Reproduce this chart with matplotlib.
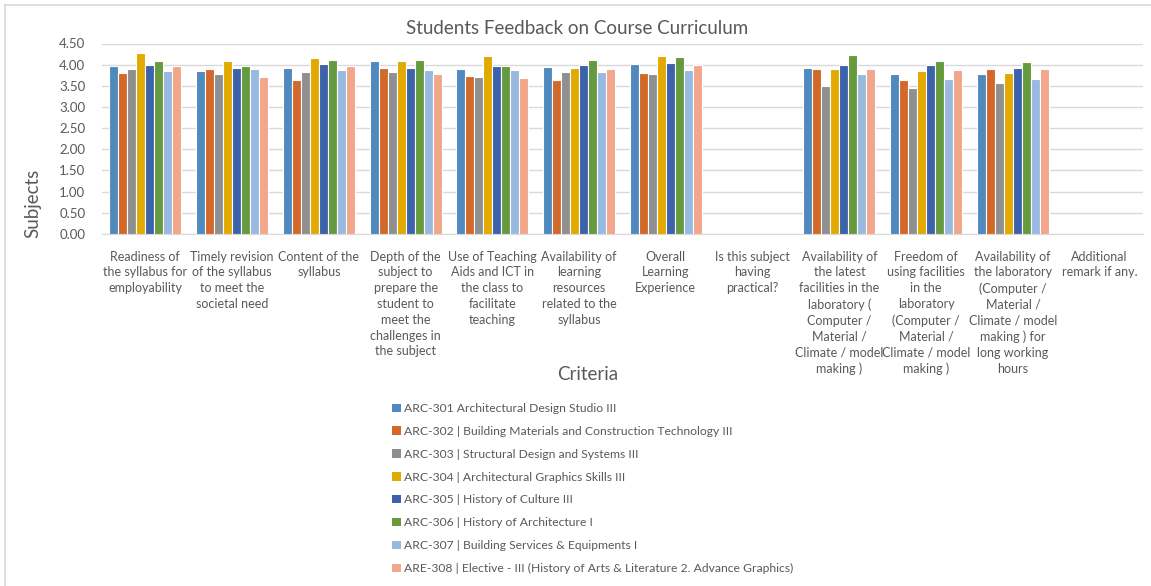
import numpy as np
import matplotlib.pyplot as plt
from matplotlib.patches import Patch
from matplotlib.lines import Line2D

plt.rcParams['font.family'] = ['Lato', 'DejaVu Sans']

criteria = [
    "Readiness of\nthe syllabus for\nemployability",
    "Timely revision\nof the syllabus\nto meet the\nsocietal need",
    "Content of the\nsyllabus",
    "Depth of the\nsubject to\nprepare the\nstudent to\nmeet the\nchallenges in\nthe subject",
    "Use of Teaching\nAids and ICT in\nthe class to\nfacilitate\nteaching",
    "Availability of\nlearning\nresources\nrelated to the\nsyllabus",
    "Overall\nLearning\nExperience",
    "Is this subject\nhaving\npractical?",
    "Availability of\nthe latest\nfacilities in the\nlaboratory (\nComputer /\nMaterial /\nClimate / model\nmaking )",
    "Freedom of\nusing facilities\nin the\nlaboratory\n(Computer /\nMaterial /\nClimate / model\nmaking )",
    "Availability of\nthe laboratory\n(Computer /\nMaterial /\nClimate / model\nmaking ) for\nlong working\nhours",
    "Additional\nremark if any.",
]

subjects = [
    "ARC-301 Architectural Design Studio III",
    "ARC-302 | Building Materials and Construction Technology III",
    "ARC-303 | Structural Design and Systems III",
    "ARC-304 | Architectural Graphics Skills III",
    "ARC-305 | History of Culture III",
    "ARC-306 | History of Architecture I",
    "ARC-307 | Building Services & Equipments I",
    "ARE-308 | Elective - III (History of Arts & Literature 2. Advance Graphics)",
]

nan = np.nan
arc301 = [3.96, 3.86, 3.93, 4.09, 3.89, 3.94, 4.02, nan, 3.93, 3.79, 3.77, nan]
arc302 = [3.80, 3.89, 3.64, 3.92, 3.73, 3.64, 3.80, nan, 3.89, 3.64, 3.89, nan]
arc303 = [3.89, 3.78, 3.83, 3.82, 3.72, 3.83, 3.77, nan, 3.50, 3.45, 3.57, nan]
arc304 = [4.28, 4.09, 4.15, 4.09, 4.21, 3.93, 4.21, nan, 3.90, 3.85, 3.80, nan]
arc305 = [4.00, 3.93, 4.02, 3.91, 3.96, 4.00, 4.04, nan, 4.00, 4.00, 3.93, nan]
arc306 = [4.09, 3.98, 4.12, 4.12, 3.96, 4.12, 4.18, nan, 4.24, 4.09, 4.07, nan]
arc307 = [3.85, 3.90, 3.88, 3.88, 3.88, 3.83, 3.88, nan, 3.77, 3.66, 3.66, nan]
are308 = [3.98, 3.70, 3.96, 3.77, 3.68, 3.90, 3.99, nan, 3.90, 3.87, 3.90, nan]
series = [arc301, arc302, arc303, arc304, arc305, arc306, arc307, are308]

colors = ['#4F89BE', '#D2692A', '#8F8F8F', '#E2A900',
          '#3C62AA', '#659A3E', '#99BAE0', '#F2A78A']

text_col = '#595959'
W, H = 1151, 586
fig = plt.figure(figsize=(W / 100, H / 100), dpi=100)
ax = fig.add_axes([102 / W, 1 - 234 / H, (1143 - 102) / W, (234 - 43.5) / H])

x = np.arange(len(criteria))
slot = 0.83 / len(series)
for i, (vals, c) in enumerate(zip(series, colors)):
    off = (i - (len(series) - 1) / 2) * slot
    ax.bar(x + off, vals, width=slot, color=c, edgecolor='white', linewidth=0.8, zorder=3)

ax.set_xlim(-0.5, len(criteria) - 0.5)
ax.set_ylim(0, 4.5)
ax.set_yticks(np.arange(0, 4.51, 0.5))
ax.set_yticklabels([f"{v:.2f}" for v in np.arange(0, 4.51, 0.5)])
ax.set_xticks(x)
ax.set_xticklabels(criteria, fontsize=9, color=text_col, linespacing=1.38)
ax.tick_params(axis='x', length=0, pad=12)
ax.tick_params(axis='y', length=0, pad=12, labelsize=9.5, labelcolor=text_col)
ax.grid(axis='y', color='#D9D9D9', linewidth=1, zorder=0)
for s in ['top', 'right', 'left']:
    ax.spines[s].set_visible(False)
ax.spines['bottom'].set_color('#D9D9D9')

fig.text(577 / W, 1 - 29 / H, "Students Feedback on Course Curriculum",
         ha='center', va='center', fontsize=13.5, color=text_col)
fig.text(588 / W, 1 - 374 / H, "Criteria", ha='center', va='center',
         fontsize=13.5, color=text_col)
fig.text(33 / W, 1 - 203 / H, "Subjects", ha='center', va='center',
         rotation=90, fontsize=13.5, color=text_col)

handles = [Patch(facecolor=c, edgecolor='none') for c in colors]
leg = fig.legend(handles, subjects, loc='upper left',
                 bbox_to_anchor=(386 / W, 1 - 397 / H), frameon=False,
                 fontsize=8.7, handlelength=0.7, handleheight=0.7,
                 handletextpad=0.3, labelspacing=0.98, borderpad=0)
for t in leg.get_texts():
    t.set_color(text_col)

# chart border (left and top only visible in crop)
fig.add_artist(Line2D([5 / W, 5 / W], [0, 1 - 5 / H], color='#D9D9D9', linewidth=1.2))
fig.add_artist(Line2D([5 / W, 1], [1 - 5 / H, 1 - 5 / H], color='#D9D9D9', linewidth=1.2))

fig.savefig('out.png', dpi=100, facecolor='white')
